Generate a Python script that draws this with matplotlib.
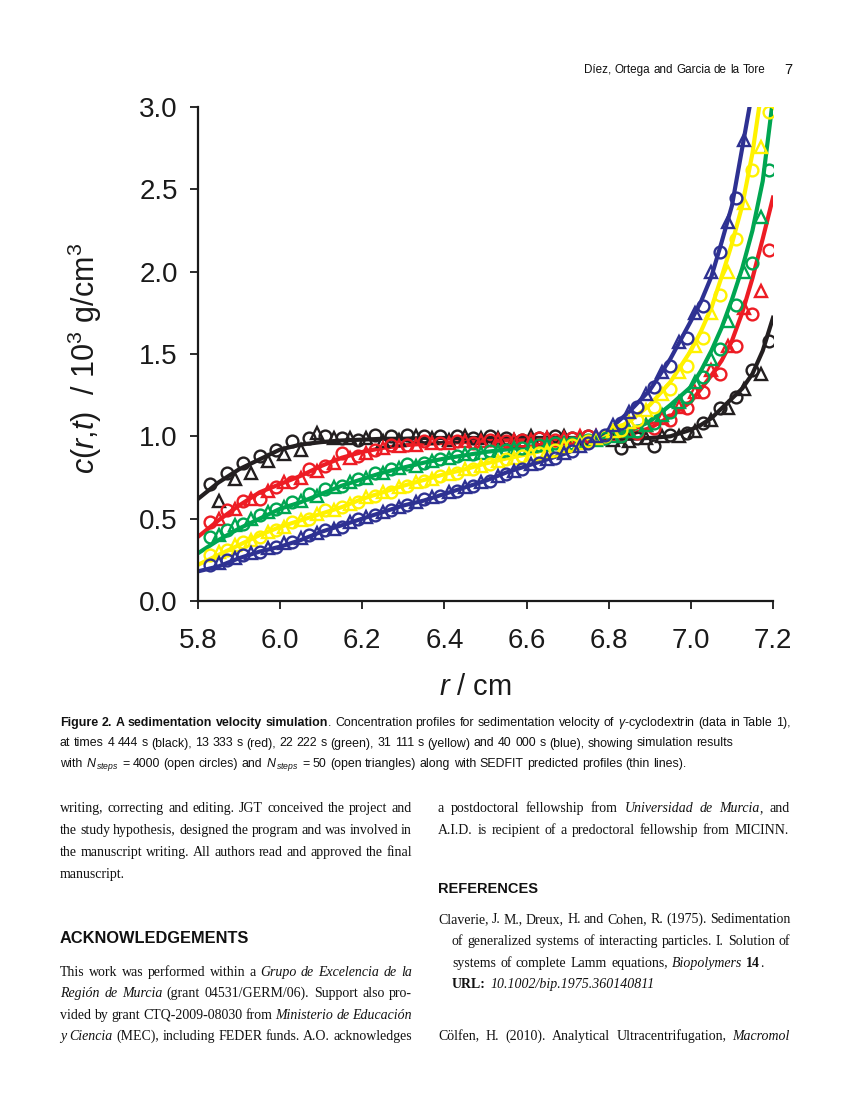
import matplotlib
matplotlib.use("Agg")
import matplotlib.pyplot as plt
import numpy as np

plt.rcParams['font.family'] = ['Liberation Sans', 'DejaVu Sans']
plt.rcParams['mathtext.fontset'] = 'custom'
plt.rcParams['mathtext.rm'] = 'Liberation Sans'
plt.rcParams['mathtext.it'] = 'Liberation Sans:italic'
plt.rcParams['mathtext.bf'] = 'Liberation Sans:bold'

W, H = 850, 1100
SANS = ['Liberation Sans', 'DejaVu Sans']
SERIF = ['Liberation Serif', 'DejaVu Serif']

# --- SEDFIT profiles (lines) ---
r_line = [5.80, 5.85, 5.90, 5.95, 6.00, 6.05, 6.10, 6.15, 6.20, 6.25, 6.30,
          6.35, 6.40, 6.45, 6.50, 6.55, 6.60, 6.65, 6.70, 6.75, 6.80, 6.85,
          6.90, 6.95, 7.00, 7.025, 7.05, 7.075, 7.10, 7.125, 7.15, 7.175, 7.20]
black_fit = [0.62, 0.72, 0.80, 0.86, 0.92, 0.95, 0.965, 0.975, 0.98, 0.985, 0.985,
             0.99, 0.99, 0.99, 0.99, 0.99, 0.99, 0.99, 0.99, 0.99, 0.985, 0.985,
             0.99, 1.00, 1.04, 1.07, 1.11, 1.17, 1.23, 1.29, 1.38, 1.52, 1.72]
red_fit = [0.39, 0.49, 0.58, 0.66, 0.71, 0.76, 0.82, 0.87, 0.905, 0.93, 0.945,
           0.955, 0.96, 0.965, 0.97, 0.975, 0.975, 0.98, 0.985, 0.99, 0.995, 1.01,
           1.05, 1.12, 1.21, 1.29, 1.37, 1.46, 1.58, 1.75, 1.96, 2.20, 2.45]
green_fit = [0.29, 0.37, 0.44, 0.50, 0.56, 0.60, 0.65, 0.70, 0.74, 0.78, 0.81,
             0.84, 0.865, 0.885, 0.905, 0.92, 0.935, 0.95, 0.965, 0.98, 1.00, 1.03,
             1.09, 1.19, 1.30, 1.40, 1.52, 1.66, 1.83, 2.02, 2.25, 2.55, 3.05]
yellow_fit = [0.22, 0.28, 0.34, 0.40, 0.45, 0.49, 0.53, 0.57, 0.62, 0.66, 0.70,
              0.735, 0.77, 0.80, 0.835, 0.865, 0.89, 0.92, 0.95, 0.98, 1.02, 1.09,
              1.19, 1.33, 1.52, 1.64, 1.78, 1.97, 2.17, 2.40, 2.72, 3.15, 3.60]
blue_fit = [0.18, 0.21, 0.26, 0.30, 0.33, 0.37, 0.42, 0.46, 0.50, 0.54, 0.58,
            0.61, 0.65, 0.69, 0.73, 0.78, 0.82, 0.86, 0.90, 0.96, 1.04, 1.15,
            1.28, 1.47, 1.70, 1.82, 1.97, 2.18, 2.40, 2.75, 3.10, 3.60, 4.20]

# --- simulation, N_steps = 4000 (open circles) ---
r_circ = [5.83, 5.87, 5.91, 5.95, 5.99, 6.03, 6.07, 6.11, 6.15, 6.19, 6.23, 6.27,
          6.31, 6.35, 6.39, 6.43, 6.47, 6.51, 6.55, 6.59, 6.63, 6.67, 6.71, 6.75,
          6.79, 6.83, 6.87, 6.91, 6.95, 6.99, 7.03, 7.07, 7.11, 7.15, 7.19]
black_circ = [0.71, 0.78, 0.84, 0.88, 0.92, 0.97, 0.99, 1.00, 0.99, 0.98, 1.01, 1.00,
              1.01, 1.00, 1.00, 1.00, 0.99, 1.00, 0.99, 0.98, 0.99, 1.00, 0.99, 1.00,
              0.99, 0.93, 0.99, 0.94, 1.01, 1.02, 1.08, 1.17, 1.24, 1.40, 1.58]
red_circ = [0.48, 0.55, 0.61, 0.62, 0.69, 0.72, 0.80, 0.82, 0.90, 0.88, 0.92, 0.95,
            0.95, 0.97, 0.96, 0.97, 0.96, 0.98, 0.97, 0.98, 0.99, 0.98, 0.99, 1.00,
            1.00, 1.00, 1.02, 1.05, 1.10, 1.17, 1.27, 1.38, 1.55, 1.74, 2.13]
green_circ = [0.39, 0.43, 0.47, 0.52, 0.56, 0.60, 0.65, 0.68, 0.70, 0.74, 0.78, 0.80,
              0.83, 0.84, 0.86, 0.88, 0.89, 0.91, 0.92, 0.93, 0.95, 0.96, 0.96, 0.98,
              0.99, 1.00, 1.03, 1.08, 1.15, 1.24, 1.36, 1.53, 1.80, 2.05, 2.62]
yellow_circ = [0.28, 0.31, 0.36, 0.39, 0.43, 0.48, 0.50, 0.55, 0.57, 0.60, 0.64, 0.66,
               0.70, 0.73, 0.76, 0.78, 0.80, 0.83, 0.86, 0.88, 0.90, 0.92, 0.95, 0.97,
               1.00, 1.04, 1.10, 1.18, 1.29, 1.43, 1.60, 1.86, 2.20, 2.62, 2.97]
blue_circ = [0.22, 0.25, 0.28, 0.30, 0.33, 0.36, 0.40, 0.43, 0.45, 0.50, 0.52, 0.55,
             0.58, 0.62, 0.64, 0.67, 0.70, 0.73, 0.77, 0.80, 0.84, 0.87, 0.91, 0.96,
             1.01, 1.08, 1.18, 1.30, 1.43, 1.60, 1.79, 2.12, 2.45, np.nan, np.nan]

# --- simulation, N_steps = 50 (open triangles) ---
r_tri = [5.85, 5.89, 5.93, 5.97, 6.01, 6.05, 6.09, 6.13, 6.17, 6.21, 6.25, 6.29,
         6.33, 6.37, 6.41, 6.45, 6.49, 6.53, 6.57, 6.61, 6.65, 6.69, 6.73, 6.77,
         6.81, 6.85, 6.89, 6.93, 6.97, 7.01, 7.05, 7.09, 7.13, 7.17]
black_tri = [0.61, 0.74, 0.78, 0.85, 0.89, 0.92, 1.02, 0.99, 0.99, 0.99, 0.97, 0.98,
             1.00, 0.99, 0.98, 1.00, 0.99, 0.99, 0.98, 1.00, 0.99, 1.00, 0.99, 0.99,
             0.98, 0.97, 0.99, 1.00, 1.00, 1.03, 1.10, 1.17, 1.29, 1.38]
red_tri = [0.50, 0.56, 0.62, 0.67, 0.72, 0.75, 0.79, 0.84, 0.87, 0.90, 0.93, 0.94,
           0.95, 0.96, 0.96, 0.97, 0.97, 0.98, 0.98, 0.98, 0.99, 0.99, 1.00, 1.00,
           1.01, 1.03, 1.07, 1.11, 1.18, 1.27, 1.40, 1.55, 1.78, 1.88]
green_tri = [0.40, 0.46, 0.50, 0.54, 0.57, 0.61, 0.64, 0.69, 0.72, 0.75, 0.78, 0.81,
             0.82, 0.85, 0.87, 0.89, 0.90, 0.91, 0.93, 0.94, 0.95, 0.96, 0.97, 0.98,
             1.00, 1.03, 1.07, 1.13, 1.21, 1.33, 1.47, 1.70, 2.00, 2.33]
yellow_tri = [0.30, 0.34, 0.37, 0.42, 0.45, 0.49, 0.53, 0.55, 0.59, 0.63, 0.66, 0.69,
              0.72, 0.74, 0.77, 0.80, 0.82, 0.85, 0.87, 0.89, 0.91, 0.94, 0.96, 0.99,
              1.03, 1.09, 1.16, 1.26, 1.39, 1.55, 1.75, 2.00, 2.42, 2.76]
blue_tri = [0.23, 0.26, 0.29, 0.32, 0.35, 0.38, 0.41, 0.44, 0.48, 0.51, 0.54, 0.57,
            0.60, 0.63, 0.66, 0.69, 0.72, 0.76, 0.79, 0.83, 0.86, 0.90, 0.94, 1.00,
            1.07, 1.15, 1.26, 1.39, 1.57, 1.75, 2.00, 2.30, 2.80, np.nan]

x_ticks = [5.8, 6.0, 6.2, 6.4, 6.6, 6.8, 7.0, 7.2]
x_labels = ['5.8', '6.0', '6.2', '6.4', '6.6', '6.8', '7.0', '7.2']
y_ticks = [0.0, 0.5, 1.0, 1.5, 2.0, 2.5, 3.0]
y_labels = ['0.0', '0.5', '1.0', '1.5', '2.0', '2.5', '3.0']

series = [
    (black_fit, black_circ, black_tri, '#231f20'),
    (red_fit, red_circ, red_tri, '#ed1c24'),
    (green_fit, green_circ, green_tri, '#00a651'),
    (yellow_fit, yellow_circ, yellow_tri, '#fff200'),
    (blue_fit, blue_circ, blue_tri, '#2e3192'),
]

fig = plt.figure(figsize=(W / 100, H / 100), dpi=100)
ax = fig.add_axes([198 / W, 1 - 601 / H, 575 / W, 494 / H])

for fit, circ, tri, c in series:
    ax.plot(r_line, fit, color=c, lw=3.0, solid_joinstyle='round', zorder=2)
    ax.plot(r_circ, circ, 'o', mfc='none', mec=c, mew=1.7, ms=8.5, zorder=3)
    ax.plot(r_tri, tri, '^', mfc='none', mec=c, mew=1.7, ms=8.5, zorder=3)

ax.set_xlim(5.8, 7.2)
ax.set_ylim(0, 3.0)
ax.spines[['top', 'right']].set_visible(False)
for s in ['left', 'bottom']:
    ax.spines[s].set_linewidth(1.6)
    ax.spines[s].set_color('#1a1a1a')
ax.set_xticks(x_ticks)
ax.set_xticklabels(x_labels)
ax.set_yticks(y_ticks)
ax.set_yticklabels(y_labels)
ax.tick_params(direction='out', length=5.5, width=1.3, labelsize=20, colors='#1a1a1a')
ax.tick_params(axis='x', pad=14)
ax.tick_params(axis='y', pad=9)

ax.text(-0.1965, 0.492, r'$c(r{,}t)$  / 10$^3$ g/cm$^3$', transform=ax.transAxes,
        rotation=90, ha='center', va='center', fontsize=22, color='#1a1a1a')
ax.text(0.483, -0.174, r'$r$ / cm', transform=ax.transAxes,
        ha='center', va='center', fontsize=21, color='#1a1a1a')

# ---------------- page text ----------------
rend = fig.canvas.get_renderer()
STY = {'r': {}, 'i': {'style': 'italic'}, 'b': {'weight': 'bold'},
       'bi': {'style': 'italic', 'weight': 'bold'}}


def txt(x, y, s, size, fam, st='r'):
    return fig.text(x / W, 1 - y / H, s, fontsize=size, family=fam,
                    va='baseline', ha='left', color='#111111', **STY[st])


def wid(s, size, fam, st='r'):
    t = txt(0, 0, s, size, fam, st)
    w = t.get_window_extent(rend).width
    t.remove()
    return w


def key(bf, it):
    return ('b' if bf else '') + ('i' if it else '') or 'r'


def parse(s):
    # % toggles italic, # toggles bold
    words, it, bf = [], False, False
    for tok in s.split():
        pieces, cur = [], ''
        for ch in tok:
            if ch in '%#':
                if cur:
                    pieces.append((cur, key(bf, it)))
                cur = ''
                if ch == '%':
                    it = not it
                else:
                    bf = not bf
            else:
                cur += ch
        if cur:
            pieces.append((cur, key(bf, it)))
        if pieces:
            words.append(pieces)
    return words


def space(size, fam):
    return wid('a a', size, fam) - wid('aa', size, fam)


def natural(s, size, fam):
    words = parse(s)
    return sum(wid(p, size, fam, st) for w in words for p, st in w) + space(size, fam) * (len(words) - 1)


def line(x0, y, s, size, fam, x1=None, sp=1.0):
    words = parse(s)
    ws = [[wid(p, size, fam, st) for p, st in w] for w in words]
    tot = sum(sum(w) for w in ws)
    if x1 is not None and len(words) > 1:
        gap = (x1 - x0 - tot) / (len(words) - 1)
    else:
        gap = space(size, fam) * sp
    x = x0
    for w, pw in zip(words, ws):
        for (p, st), pwi in zip(w, pw):
            txt(x, y, p, size, fam, st)
            x += pwi
        x += gap


# header
hdr = 'Díez, Ortega and Garcia de la Tore'
hs = 10 * 182 / natural(hdr, 10, SANS)
line(584, 73, hdr, hs, SANS)
line(784, 74, '7', 10.5, SANS)

# caption
cap = [
    r'#Figure 2. A sedimentation velocity simulation#. Concentration profiles for sedimentation velocity of $\gamma$-cyclodextrin (data in Table 1),',
    'at times 4 444 s (black), 13 333 s (red), 22 222 s (green), 31 111 s (yellow) and 40 000 s (blue), showing simulation results',
    r'with $N_{\,steps}$ = 4000 (open circles) and $N_{\,steps}$ = 50 (open triangles) along with SEDFIT predicted profiles (thin lines).',
]
cs = 10 * 730 / natural(cap[0], 10, SANS)
for i, s in enumerate(cap):
    line(60, 726 + 20.5 * i, s, cs, SANS)

bs = 10.0
L0, L1 = 60, 412
R0, R1 = 438, 790

left_par = [
    'writing, correcting and editing. JGT conceived the project and',
    'the study hypothesis, designed the program and was involved in',
    'the manuscript writing. All authors read and approved the final',
]
for i, s in enumerate(left_par):
    line(L0, 812 + 22 * i, s, bs, SERIF, L1)
line(L0, 878, 'manuscript.', bs, SERIF)

ack = '#ACKNOWLEDGEMENTS#'
line(L0, 943, ack, 10 * 188 / natural(ack, 10, SANS), SANS)

ack_par = [
    'This work was performed within a %Grupo de Excelencia de la%',
    '%Región de Murcia% (grant 04531/GERM/06). Support also pro-',
    'vided by grant CTQ-2009-08030 from %Ministerio de Educación%',
    '%y Ciencia% (MEC), including FEDER funds. A.O. acknowledges',
]
for i, s in enumerate(ack_par):
    line(L0, 976 + 21.3 * i, s, bs, SERIF, L1)

line(R0, 812, 'a postdoctoral fellowship from %Universidad de Murcia%, and', bs, SERIF, R1)
line(R0, 834, 'A.I.D. is recipient of a predoctoral fellowship from MICINN.', bs, SERIF, sp=1.35)

ref = '#REFERENCES#'
line(R0, 893, ref, 10 * 100 / natural(ref, 10, SANS), SANS)

line(R0, 923, 'Claverie, J. M., Dreux, H. and Cohen, R. (1975). Sedimentation', bs, SERIF, R1)
line(452, 945, 'of generalized systems of interacting particles. I. Solution of', bs, SERIF, R1)
line(452, 967, 'systems of complete Lamm equations, %Biopolymers% #14#.', bs, SERIF, sp=1.2)
line(452, 988, '#URL:# %10.1002/bip.1975.360140811%', bs, SERIF, sp=1.2)
line(R0, 1040, 'Cölfen, H. (2010). Analytical Ultracentrifugation, %Macromol%', bs, SERIF, R1)

fig.savefig('out.png', dpi=100, facecolor='white')
